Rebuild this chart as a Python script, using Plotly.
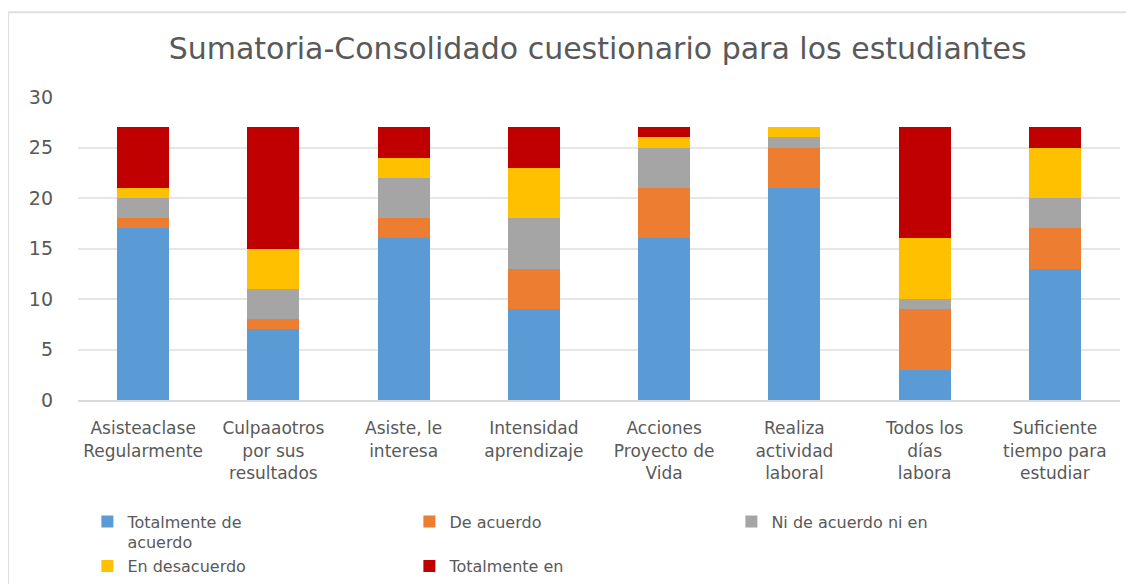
import plotly.graph_objects as go

categorias = [
    "Asisteaclase<br>Regularmente",
    "Culpaaotros<br>por sus<br>resultados",
    "Asiste, le<br>interesa",
    "Intensidad<br>aprendizaje",
    "Acciones<br>Proyecto de<br>Vida",
    "Realiza<br>actividad<br>laboral",
    "Todos los<br>días<br>labora",
    "Suficiente<br>tiempo para<br>estudiar",
]

totalmente_de_acuerdo = [17, 7, 16, 9, 16, 21, 3, 13]
de_acuerdo = [1, 1, 2, 4, 5, 4, 6, 4]
ni_de_acuerdo = [2, 3, 4, 5, 4, 1, 1, 3]
en_desacuerdo = [1, 4, 2, 5, 1, 1, 6, 5]
totalmente_en_desacuerdo = [6, 12, 3, 4, 1, 0, 11, 2]

series = [
    ("Totalmente de<br>acuerdo", totalmente_de_acuerdo, "#5B9BD5"),
    ("De acuerdo", de_acuerdo, "#ED7D31"),
    ("Ni de acuerdo ni en", ni_de_acuerdo, "#A5A5A5"),
    ("En desacuerdo", en_desacuerdo, "#FFC000"),
    ("Totalmente en", totalmente_en_desacuerdo, "#C00000"),
]

FUENTE = "DejaVu Sans, Liberation Sans, Arial, sans-serif"

fig = go.Figure()
for nombre, valores, color in series:
    fig.add_trace(go.Bar(
        x=categorias, y=valores, name=nombre,
        marker=dict(color=color, line=dict(width=0)),
    ))

# marco del gráfico (borde izquierdo y superior visibles)
fig.add_shape(type="rect", xref="paper", yref="paper",
              x0=-0.067, x1=1.03, y0=-0.7, y1=1.28,
              line=dict(color="#E0E0E0", width=2), layer="below")

fig.update_xaxes(
    tickfont=dict(size=17, color="#595959", family=FUENTE),
    showline=True, linecolor="#DADADA", linewidth=2,
    ticks="", ticklabelstandoff=12,
)
fig.update_yaxes(
    range=[0, 30], dtick=5,
    tickfont=dict(size=19, color="#595959", family=FUENTE),
    gridcolor="#E6E6E6", gridwidth=2,
    zeroline=False, ticks="", ticklabelstandoff=24,
)
fig.update_layout(
    width=1134, height=584,
    barmode="stack", bargap=0.6,
    margin=dict(l=70, r=22, t=89, b=192, autoexpand=False),
    plot_bgcolor="white", paper_bgcolor="white",
    font=dict(family=FUENTE, color="#595959"),
    title=dict(
        text="Sumatoria-Consolidado cuestionario para los estudiantes",
        x=0.52, xanchor="center", y=0.93, yanchor="middle",
        font=dict(size=30, color="#595959", family=FUENTE),
    ),
    legend=dict(
        orientation="h", x=0.009, xanchor="left", y=-0.345, yanchor="top",
        entrywidth=277, entrywidthmode="pixels",
        font=dict(size=16, color="#595959", family=FUENTE),
        traceorder="normal", valign="top",
        bgcolor="rgba(0,0,0,0)", itemwidth=30, tracegroupgap=0,
    ),
    showlegend=True,
)

fig.write_html("out.html")
